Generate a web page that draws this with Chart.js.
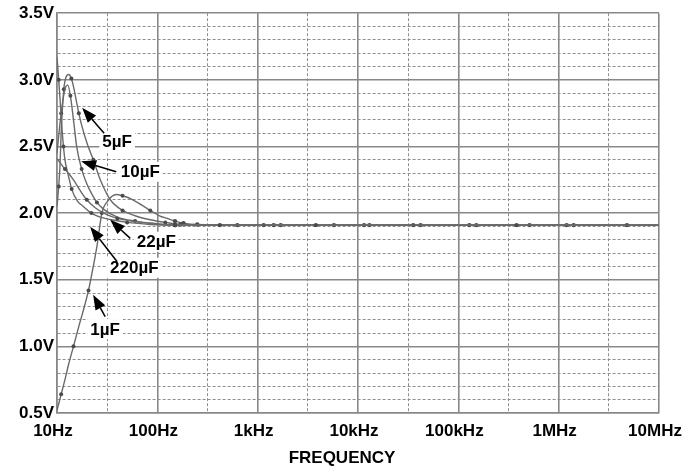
<!DOCTYPE html>
<html>
<head>
<meta charset="utf-8">
<script src="https://cdn.jsdelivr.net/npm/chart.js@4"></script>
<style>
  body { margin: 0; background: #fff; }
</style>
</head>
<body>
<canvas id="myChart" width="682" height="468"></canvas>
<script>
    // axis ticks
    var xMajor = [10, 100, 1e3, 1e4, 1e5, 1e6, 1e7];
    var xLabels = ['10Hz', '100Hz', '1kHz', '10kHz', '100kHz', '1MHz', '10MHz'];
    var yMajor = [0.5, 1.0, 1.5, 2.0, 2.5, 3.0, 3.5];
    var yLabels = ['0.5V', '1.0V', '1.5V', '2.0V', '2.5V', '3.0V', '3.5V'];
    var xTitle = 'FREQUENCY';

    // series (frequency in Hz, output in V)
    var f1 = [10, 11, 12, 13, 14.6, 16.5, 18.3, 20.6, 23, 25, 28, 32, 39, 45, 57, 70, 85, 105, 125, 150, 182, 250, 1698, 13000, 151000, 1410000, 1e7];
    var v1 = [0.52, 0.64, 0.75, 0.86, 1.0, 1.15, 1.27, 1.42, 1.6, 1.75, 2.0, 2.09, 2.14, 2.13, 2.1, 2.06, 2.02, 1.98, 1.96, 1.94, 1.925, 1.915, 1.91, 1.91, 1.91, 1.91, 1.91];

    var f5 = [10, 10.4, 10.7, 11, 11.7, 12.3, 13.1, 13.9, 14.7, 15.6, 16.5, 17.6, 20, 23, 27, 34, 45, 60, 85, 120, 170, 1445, 11500, 128800, 1200000, 1e7];
    var v5 = [2.05, 2.2, 2.35, 2.6, 2.93, 3.02, 3.04, 3.01, 2.94, 2.84, 2.75, 2.66, 2.52, 2.4, 2.25, 2.1, 2.02, 1.98, 1.95, 1.93, 1.915, 1.91, 1.91, 1.91, 1.91, 1.91];

    var f10 = [10, 11, 12, 12.8, 13.6, 14.6, 15.7, 17.6, 19.8, 22, 25, 29, 40, 60, 100, 150, 627, 5754, 42000, 513000, 1e7];
    var v10 = [2.45, 2.75, 2.93, 2.96, 2.88, 2.7, 2.5, 2.33, 2.22, 2.15, 2.08, 2.03, 1.97, 1.94, 1.92, 1.91, 1.91, 1.91, 1.91, 1.91, 1.91];

    var f22 = [10, 10.4, 10.8, 11.1, 11.6, 12, 13, 14, 16, 18.3, 22, 27, 35, 50, 85, 150, 1148, 35500, 4790000, 1e7];
    var v22 = [3.17, 3.0, 2.82, 2.68, 2.5, 2.4, 2.28, 2.18, 2.09, 2.05, 2.0, 1.97, 1.95, 1.93, 1.915, 1.91, 1.91, 1.91, 1.91, 1.91];

    var f220 = [10, 12, 14.6, 17, 19.8, 24, 31, 40, 55, 80, 150, 420, 3800, 380000, 1e7];
    var v220 = [2.41, 2.33, 2.25, 2.17, 2.1, 2.04, 1.99, 1.96, 1.94, 1.925, 1.91, 1.91, 1.91, 1.91, 1.91];

    // callouts: label position, arrow tip and arrow tail, in data units
    var notes = [
        {text: '5µF',   lf: 39.8, lv: 2.54, tf: 17.8, tv: 2.79, af: 29.5, av: 2.60},
        {text: '10µF',  lf: 67.6, lv: 2.31, tf: 17.4, tv: 2.39, af: 38.9, av: 2.31},
        {text: '22µF',  lf: 97.7, lv: 1.785, tf: 33.9, tv: 1.95, af: 53.7, av: 1.81},
        {text: '220µF', lf: 59,   lv: 1.59, tf: 21.4, tv: 1.897, af: 39.8, av: 1.635},
        {text: '1µF',   lf: 30.2, lv: 1.13, tf: 22.9, tv: 1.387, af: 30.2, av: 1.223}
    ];

    function pts(fs, vs) {
        return fs.map(function (f, i) { return {x: f, y: vs[i]}; });
    }
    function isMajorX(v) {
        return Math.abs(Math.log10(v) - Math.round(Math.log10(v))) < 1e-6;
    }
    function isMajorY(v) {
        return Math.abs(v * 2 - Math.round(v * 2)) < 1e-6;
    }

    function series(fs, vs) {
        return {
            data: pts(fs, vs),
            borderColor: '#6a6a6a',
            borderWidth: 1.4,
            backgroundColor: '#4a4a4a',
            pointBorderWidth: 0,
            pointRadius: function (ctx) {
                var n = ctx.dataset.data.length;
                if (ctx.dataIndex === n - 1) return 0;
                if (ctx.raw && ctx.raw.x >= 150) return 2.2;
                return ctx.dataIndex % 3 === 1 ? 2 : 0;
            },
            cubicInterpolationMode: 'monotone',
            fill: false
        };
    }

    var FONT = '"Liberation Sans", Arial, sans-serif';

    var calloutPlugin = {
        id: 'callouts',
        afterDatasetsDraw: function (chart) {
            var c = chart.ctx, xs = chart.scales.x, ys = chart.scales.y;
            c.save();
            c.font = 'bold 17px ' + FONT;
            c.textAlign = 'center';
            c.textBaseline = 'middle';
            notes.forEach(function (n) {
                var lx = xs.getPixelForValue(n.lf), ly = ys.getPixelForValue(n.lv);
                var tx = xs.getPixelForValue(n.tf), ty = ys.getPixelForValue(n.tv);
                var ax = xs.getPixelForValue(n.af), ay = ys.getPixelForValue(n.av);
                var w = c.measureText(n.text).width;
                c.fillStyle = '#fff';
                c.fillRect(lx - w / 2 - 3, ly - 10, w + 6, 20);
                c.fillStyle = '#000';
                c.fillText(n.text, lx, ly + 1);
                // arrow shaft + head
                var ang = Math.atan2(ty - ay, tx - ax);
                var hl = 15, hw = 5.5;
                var bx = tx - hl * Math.cos(ang), by = ty - hl * Math.sin(ang);
                c.strokeStyle = '#000';
                c.lineWidth = 1.5;
                c.beginPath();
                c.moveTo(ax, ay);
                c.lineTo(bx, by);
                c.stroke();
                c.beginPath();
                c.moveTo(tx, ty);
                c.lineTo(bx + hw * Math.sin(ang), by - hw * Math.cos(ang));
                c.lineTo(bx - hw * Math.sin(ang), by + hw * Math.cos(ang));
                c.closePath();
                c.fill();
            });
            // axis title, sits a little left of the plot centre in the original
            var a = chart.chartArea;
            c.font = 'bold 17px ' + FONT;
            c.fillText(xTitle, (a.left + a.right) / 2 - 16, 458);
            c.restore();
        }
    };

    var tickFont = {family: FONT, size: 17, weight: 'bold'};

    var chart = new Chart(document.getElementById('myChart').getContext('2d'), {
        type: 'scatter',
        data: {
            datasets: [
                series(f220, v220),
                series(f22, v22),
                series(f10, v10),
                series(f5, v5),
                series(f1, v1)
            ]
        },
        options: {
            responsive: false,
            animation: false,
            showLine: true,
            layout: {padding: {top: 13, right: 0, left: 0, bottom: 0}},
            plugins: {legend: {display: false}, tooltip: {enabled: false}},
            scales: {
                x: {
                    type: 'logarithmic',
                    min: 10,
                    max: 1e7,
                    afterBuildTicks: function (s) {
                        var t = [];
                        xMajor.forEach(function (v, i) {
                            t.push({value: v});
                            if (i < xMajor.length - 1) t.push({value: v * Math.sqrt(10)});
                        });
                        s.ticks = t;
                    },
                    afterFit: function (s) {
                        s.height = 55;
                        s.paddingRight = 23;
                    },
                    ticks: {
                        autoSkip: false,
                        maxRotation: 0,
                        padding: 8,
                        labelOffset: -4,
                        color: '#000',
                        font: tickFont,
                        callback: function (v) {
                            var i = xMajor.findIndex(function (m) { return Math.abs(m - v) / m < 1e-6; });
                            return i >= 0 ? xLabels[i] : '';
                        }
                    },
                    grid: {
                        drawTicks: false,
                        color: function (ctx) { return ctx.tick && isMajorX(ctx.tick.value) ? '#888' : '#8e8e8e'; },
                        lineWidth: function (ctx) { return ctx.tick && isMajorX(ctx.tick.value) ? 1.6 : 1; }
                    },
                    border: {
                        display: true,
                        color: '#888',
                        width: 1.6,
                        dash: function (ctx) { return ctx.tick && !isMajorX(ctx.tick.value) ? [3, 2] : []; }
                    }
                },
                y: {
                    type: 'linear',
                    min: 0.5,
                    max: 3.5,
                    afterBuildTicks: function (s) {
                        var t = [];
                        for (var k = 5; k <= 35; k++) t.push({value: k / 10});
                        s.ticks = t;
                    },
                    afterFit: function (s) { s.width = 57; },
                    ticks: {
                        autoSkip: false,
                        padding: 3,
                        color: '#000',
                        font: tickFont,
                        callback: function (v) {
                            var i = yMajor.findIndex(function (m) { return Math.abs(m - v) < 1e-6; });
                            return i >= 0 ? yLabels[i] : '';
                        }
                    },
                    grid: {
                        drawTicks: false,
                        color: function (ctx) { return ctx.tick && isMajorY(ctx.tick.value) ? '#888' : '#8e8e8e'; },
                        lineWidth: function (ctx) { return ctx.tick && isMajorY(ctx.tick.value) ? 1.6 : 1; }
                    },
                    border: {
                        display: true,
                        color: '#888',
                        width: 1.6,
                        dash: function (ctx) { return ctx.tick && !isMajorY(ctx.tick.value) ? [3, 2] : []; }
                    }
                }
            }
        },
        plugins: [calloutPlugin]
    });
</script>
</body>
</html>
